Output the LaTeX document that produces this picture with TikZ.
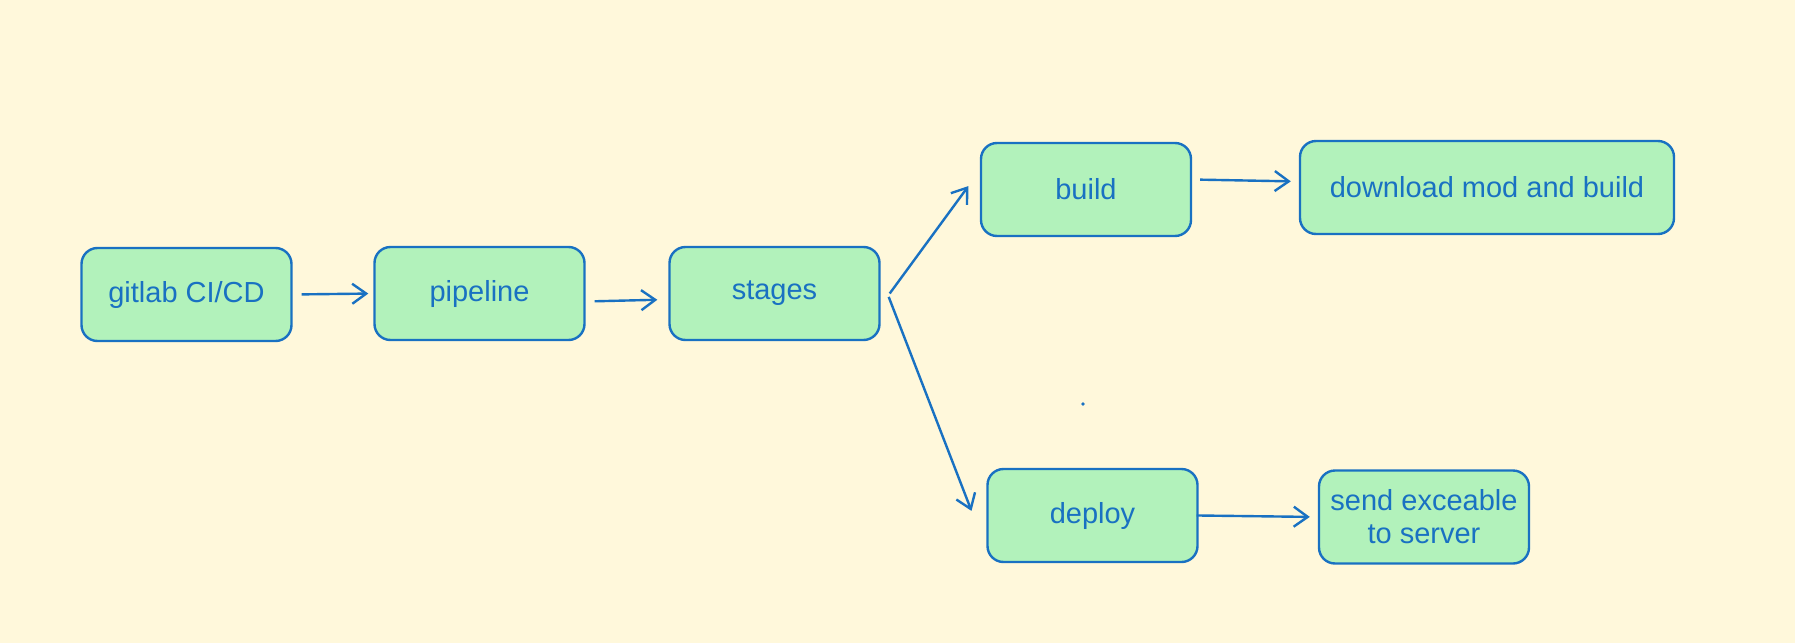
\documentclass[tikz,border=0pt]{standalone}
\usepackage{fontspec}
\setmainfont{Liberation Sans}
\usetikzlibrary{arrows.meta}
\definecolor{bgyellow}{HTML}{FFF8DB}
\definecolor{boxgreen}{HTML}{B2F2BB}
\definecolor{strokeblue}{HTML}{1971C2}

\begin{document}
\begin{tikzpicture}
    [
      x=0.5pt, y=-0.5pt,
      stage/.style={draw=strokeblue, fill=boxgreen, line width=1.2pt, rounded corners=8pt,
        minimum width=105pt, minimum height=46.5pt, inner sep=2pt, align=center,
        text=strokeblue, font=\fontsize{14.5}{16.5}\selectfont},
      flow/.style={draw=strokeblue, line width=1.2pt, ->, >={Straight Barb[length=7pt,width=10pt]}}
    ]
    % background
    \fill [bgyellow] (0,0) rectangle (1795,643);
    \useasboundingbox (0,0) rectangle (1795,643);
    % main chain
    \node [stage] (gitlab) at (186.5,294.5) {gitlab CI/CD};
    \node [stage] (pipeline) at (479.5,293.5) {pipeline};
    \node [stage] (stages) at (774.5,293.5) {stages};
    % branches
    \node [stage] (build) at (1086,189.5) {build};
    \node [stage, minimum width=187pt] (download) at (1487,187.5) {download mod and build};
    \node [stage] (deploy) at (1092.5,515.5) {deploy};
    \node [stage] (send) at (1424,517) {send exceable\\to server};
    % stray dot
    \fill [strokeblue] (1083,404) circle (0.9pt);
    % flow edges
    \draw [flow, shorten <=4.5pt, shorten >=2.5pt] (gitlab.east) -- (pipeline.west);
    \draw [flow, shorten <=4.5pt, shorten >=5.5pt]
    ([yshift=-4pt]pipeline.east) -- ([yshift=-3pt]stages.west);
    \draw [flow] ([xshift=4.5pt]stages.east) -- ([xshift=-5.7pt,yshift=1.7pt]build.west);
    \draw [flow] ([xshift=4pt,yshift=-1.7pt]stages.east) -- ([xshift=-7.4pt,yshift=2.3pt]deploy.west);
    \draw [flow, shorten <=4pt, shorten >=4pt]
    ([yshift=5pt]build.east) -- ([yshift=3pt]download.west);
    \draw [flow, shorten <=-1pt, shorten >=4pt] (deploy.east) -- (send.west);
\end{tikzpicture}
\end{document}
